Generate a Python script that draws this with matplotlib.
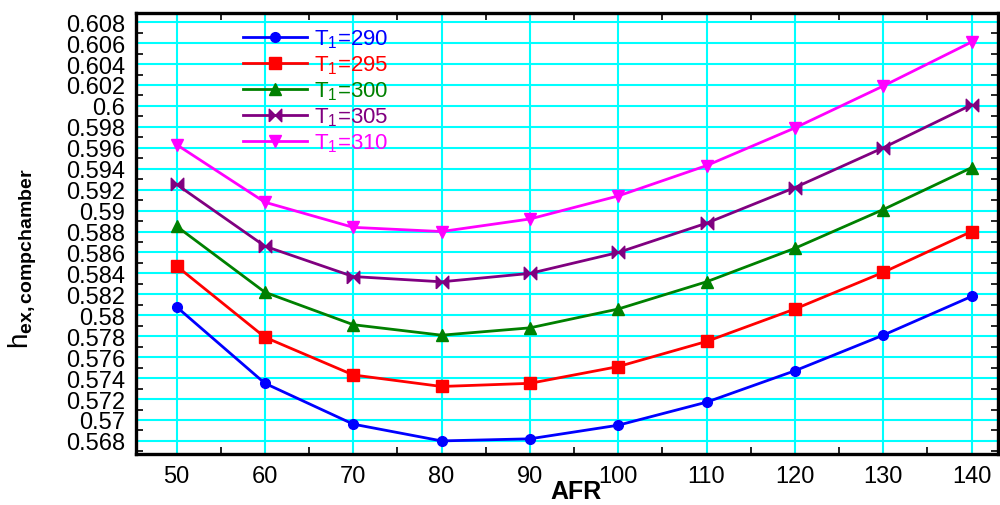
import matplotlib
matplotlib.use("Agg")
import matplotlib.pyplot as plt
import numpy as np

plt.rcParams['font.family'] = ['Liberation Sans', 'DejaVu Sans']
plt.rcParams['mathtext.fontset'] = 'custom'
plt.rcParams['mathtext.rm'] = 'Liberation Sans'
plt.rcParams['mathtext.it'] = 'Liberation Sans'
plt.rcParams['mathtext.bf'] = 'Liberation Sans:bold'

# AFR 和各 T1 下的 h 数据
afr = [50, 60, 70, 80, 90, 100, 110, 120, 130, 140]
h_290 = [0.5808, 0.5735, 0.5696, 0.5680, 0.5682, 0.5695, 0.5717, 0.5747, 0.5781, 0.5818]
h_295 = [0.5847, 0.5779, 0.5743, 0.5732, 0.5735, 0.5751, 0.5775, 0.5806, 0.5841, 0.5880]
h_300 = [0.5885, 0.5822, 0.5791, 0.5781, 0.5788, 0.5806, 0.5832, 0.5864, 0.5901, 0.5941]
h_305 = [0.5925, 0.5866, 0.5837, 0.5832, 0.5840, 0.5860, 0.5888, 0.5922, 0.5960, 0.6001]
h_310 = [0.5963, 0.5908, 0.5884, 0.5880, 0.5892, 0.5914, 0.5943, 0.5979, 0.6019, 0.6061]

labels = ['290', '295', '300', '305', '310']
colors = ['#0000ff', '#ff0000', '#008000', '#800080', '#ff00ff']

# 领结形状的标记
bowtie = [(-1, -1), (-1, 1), (0, 0), (1, 1), (1, -1), (0, 0), (-1, -1)]
markers = ['o', 's', '^', bowtie, 'v']
sizes = [7, 8, 9, 9, 9]

fig = plt.figure(figsize=(10, 5.06), dpi=100)
ax = fig.add_axes([0.136, 0.101, 0.862, 0.871])

for ys, lab, c, m, ms in zip([h_290, h_295, h_300, h_305, h_310], labels, colors, markers, sizes):
    ax.plot(afr, ys, color=c, lw=2, marker=m, ms=ms, mec=c, mfc=c,
            label=r'T$_1$=' + lab)

ax.set_xlim(45.4, 143.0)
ax.set_ylim(0.56676, 0.60886)

yt = np.round(np.arange(0.568, 0.6085, 0.002), 3)
ax.set_yticks(yt)
ax.set_yticklabels(['%g' % v for v in yt])
ax.set_yticks(np.round(np.arange(0.567, 0.608, 0.002), 3), minor=True)
ax.set_xticks(afr)
ax.set_xticks(np.arange(55, 140, 10), minor=True)

ax.tick_params(which='major', length=0, labelsize=17)
ax.tick_params(axis='y', which='major', pad=8)
ax.tick_params(axis='x', which='major', pad=8)
ax.tick_params(which='minor', length=5, width=1.2, direction='in',
               top=True, right=True)
ax.grid(True, which='major', color='#00ffff', lw=1.5)
ax.set_axisbelow(True)

for s in ax.spines.values():
    s.set_linewidth(2.4)

ax.set_xlabel('AFR', fontsize=18, fontweight='bold', va='bottom')
ax.xaxis.set_label_coords(0.51, -0.111)
ax.set_ylabel(r'h$_{\mathbf{ex,compchamber}}$', fontsize=20)
ax.yaxis.set_label_coords(-0.113, 0.444)

leg = ax.legend(loc='upper left', bbox_to_anchor=(0.124, 0.967), frameon=False,
                fontsize=16, handlelength=2.9, handletextpad=0.3,
                labelspacing=0.15, borderpad=0, borderaxespad=0,
                labelcolor='linecolor')

fig.savefig('out.png', dpi=100)
